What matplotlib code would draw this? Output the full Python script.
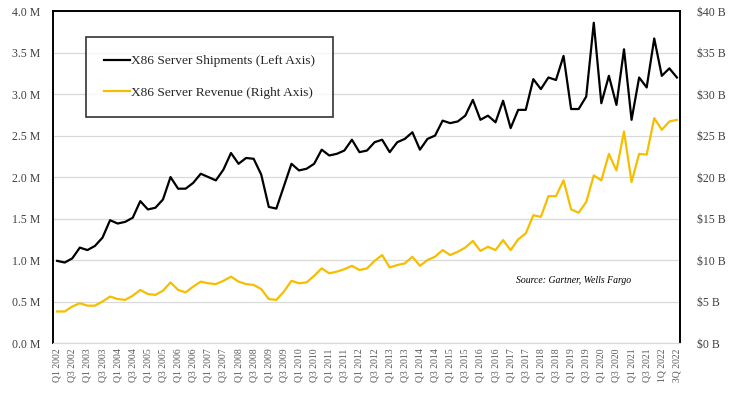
import matplotlib
matplotlib.use('Agg')
import matplotlib.pyplot as plt
from matplotlib.ticker import FuncFormatter

# Quarterly data, Q1 2002 .. Q3 2022
shipments_m = [
    0.99, 0.97, 1.02, 1.15, 1.12, 1.17, 1.27, 1.48,
    1.44, 1.46, 1.51, 1.71, 1.61, 1.63, 1.73, 2.00,
    1.86, 1.86, 1.93, 2.04, 2.00, 1.96, 2.09, 2.29,
    2.16, 2.23, 2.22, 2.03, 1.64, 1.62, 1.89, 2.16,
    2.08, 2.10, 2.16, 2.33, 2.26, 2.28, 2.32, 2.45,
    2.30, 2.32, 2.42, 2.45, 2.30, 2.42, 2.46, 2.54,
    2.33, 2.46, 2.50, 2.68, 2.65, 2.67, 2.74, 2.93,
    2.69, 2.74, 2.66, 2.92, 2.59, 2.81, 2.81, 3.18,
    3.06, 3.20, 3.17, 3.46, 2.82, 2.82, 2.97, 3.86,
    2.89, 3.22, 2.87, 3.54, 2.69, 3.20, 3.08, 3.67,
    3.22, 3.31, 3.20,
]
revenue_b = [
    3.8, 3.8, 4.4, 4.8, 4.5, 4.5, 5.0, 5.6,
    5.3, 5.2, 5.7, 6.4, 5.9, 5.8, 6.3, 7.3,
    6.4, 6.1, 6.8, 7.4, 7.2, 7.1, 7.5, 8.0,
    7.4, 7.1, 7.0, 6.5, 5.3, 5.2, 6.2, 7.5,
    7.2, 7.3, 8.1, 9.0, 8.4, 8.6, 8.9, 9.3,
    8.8, 9.0, 9.9, 10.6, 9.1, 9.4, 9.6, 10.4,
    9.3, 10.0, 10.4, 11.2, 10.6, 11.0, 11.5, 12.3,
    11.1, 11.6, 11.2, 12.4, 11.2, 12.5, 13.2, 15.4,
    15.2, 17.7, 17.7, 19.6, 16.1, 15.7, 17.0, 20.2,
    19.6, 22.8, 20.8, 25.5, 19.4, 22.8, 22.7, 27.1,
    25.7, 26.7, 26.9,
]
quarters = [f"Q{i % 4 + 1} {2002 + i // 4}" for i in range(len(shipments_m))]
tick_labels = quarters[::2]
tick_labels[-2:] = ["1Q 2022", "3Q 2022"]

plt.rcParams['font.family'] = ['Liberation Serif', 'DejaVu Serif']
label_color = '#404040'
grid_color = '#d9d9d9'

fig = plt.figure(figsize=(7.29, 3.97), dpi=100)
ax = fig.add_axes([0.0727, 0.136, 0.860, 0.836])
ax2 = ax.twinx()

x = list(range(len(shipments_m)))
l1, = ax.plot(x, shipments_m, color='black', lw=1.6,
              label='X86 Server Shipments (Left Axis)')
l2, = ax2.plot(x, revenue_b, color='#F6BE00', lw=1.6,
               label='X86 Server Revenue (Right Axis)')

ax.set_ylim(0, 4.0)
ax.set_yticks([i * 0.5 for i in range(9)])
ax.yaxis.set_major_formatter(FuncFormatter(lambda v, p: f"{v:.1f} M"))
ax2.set_ylim(0, 40)
ax2.set_yticks(range(0, 41, 5))
ax2.yaxis.set_major_formatter(FuncFormatter(lambda v, p: f"${v:.0f} B"))

ax.set_xlim(-0.55, 82.4)
ax.set_xticks(x[::2])
ax.set_xticklabels(tick_labels, rotation=90, fontsize=7, color='#595959')

ax.grid(axis='y', color=grid_color, lw=0.9)
ax.set_axisbelow(True)
ax.tick_params(axis='both', length=0)
ax.tick_params(axis='y', labelsize=8.5, labelcolor=label_color, pad=9)
ax2.tick_params(axis='y', length=0, labelsize=8.5, labelcolor=label_color, pad=12)
ax.tick_params(axis='x', pad=4)

for a in (ax, ax2):
    for s in ('left', 'top', 'right'):
        a.spines[s].set_color('black')
        a.spines[s].set_linewidth(1.2)
    a.spines['bottom'].set_color(grid_color)

leg = ax.legend(handles=[l1, l2], loc='upper left', bbox_to_anchor=(0.052, 0.922),
                frameon=True, fancybox=False, fontsize=9.6, handlelength=2.0,
                handletextpad=0.05, labelspacing=1.45, borderpad=1.35,
                borderaxespad=0)
leg.get_frame().set_edgecolor('black')
leg.get_frame().set_linewidth(1.2)
for t in leg.get_texts():
    t.set_color('#262626')

ax.text(0.739, 0.18, 'Source: Gartner, Wells Fargo', transform=ax.transAxes,
        fontsize=7, style='italic', color='black')

fig.savefig('out.png', dpi=100)
